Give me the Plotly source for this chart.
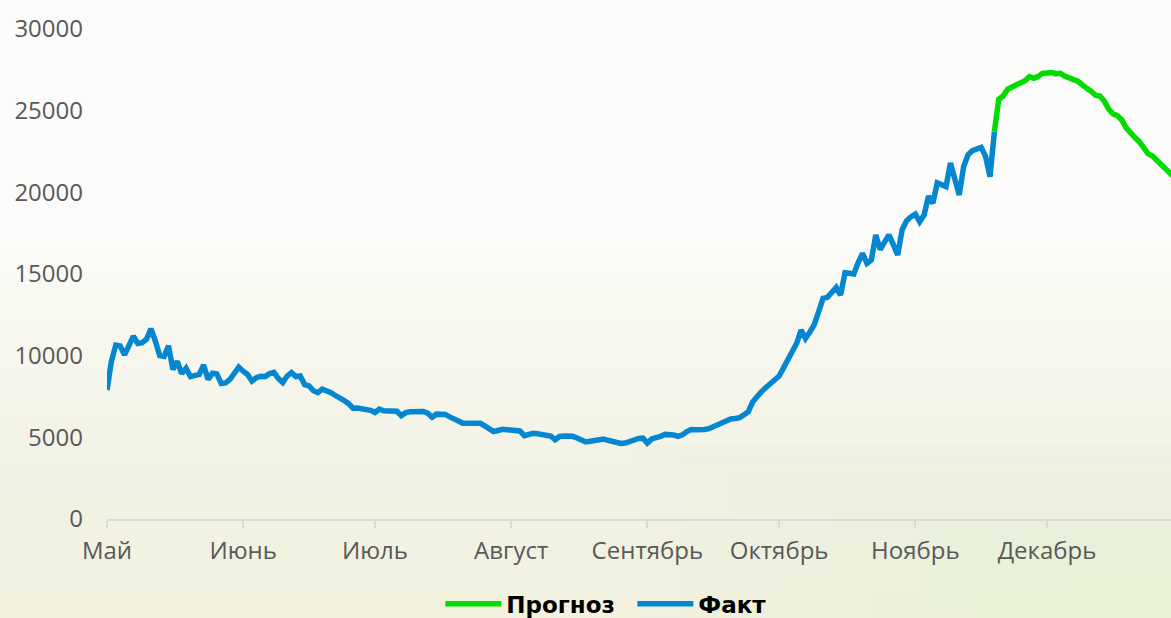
import plotly.graph_objects as go
import pandas as pd

# daily new cases
fact_may = [7900, 9650, 10650, 10600, 10050, 10550, 11200, 10750, 10800, 11000,
            11650, 10900, 10000, 9950, 10600, 9150, 9650, 8900, 9230, 8720,
            8800, 8850, 9430, 8550, 8920, 8880, 8300, 8330, 8550, 8950, 9300]
fact_jun = [9050, 8850, 8450, 8650, 8740, 8720, 8900, 8970, 8600, 8350,
            8750, 8960, 8720, 8760, 8220, 8150, 7850, 7740, 7950, 7860,
            7730, 7560, 7450, 7250, 7060, 6780, 6800, 6770, 6680, 6650]
fact_jul = [6520, 6730, 6630, 6640, 6670, 6600, 6330, 6510, 6560, 6580,
            6600, 6580, 6480, 6230, 6420, 6410, 6400, 6250, 6150, 6000,
            5860, 5840, 5820, 5840, 5860, 5700, 5550, 5350, 5420, 5490, 5470]
fact_aug = [5450, 5420, 5390, 5100, 5180, 5250, 5220, 5200, 5130, 5080,
            4850, 5050, 5080, 5080, 5060, 4960, 4850, 4720, 4760, 4790,
            4850, 4900, 4820, 4730, 4680, 4630, 4650, 4750, 4880, 4930, 4950]
fact_sep = [4650, 4900, 4950, 5050, 5180, 5200, 5140, 5060, 5150, 5350,
            5480, 5470, 5460, 5480, 5530, 5650, 5750, 5870, 6000, 6120,
            6150, 6200, 6380, 6570, 7180, 7550, 7800, 8050, 8250, 8500]
fact_oct = [8750, 9250, 9700, 10150, 10760, 11570, 11060, 11450, 11900, 12690,
            13510, 13570, 13850, 14180, 13710, 15080, 15050, 15000, 15700, 16260,
            15650, 15860, 17390, 16500, 16950, 17390, 16800, 16160, 17700, 18250, 18500]
fact_nov = [18670, 18200, 18610, 19770, 19330, 20580, 20500, 20350, 21800, 20800,
            19840, 21570, 22300, 22550, 22630, 22750, 22200, 20960, 23700]

forecast = [23700, 25700, 25900, 26300, 26450, 26570, 26700, 26830, 27080, 26980,
            27100, 27290, 27300, 27330, 27260, 27290, 27120, 27050, 26900, 26800,
            26550, 26370, 26200, 25950, 25900, 25600, 25100, 24800, 24700, 24430,
            23950, 23600, 23350, 23100, 22750, 22350, 22220, 21950, 21670, 21400,
            21160, 20900]

fact = fact_may + fact_jun + fact_jul + fact_aug + fact_sep + fact_oct + fact_nov
fact_dates = pd.date_range("2020-05-01", periods=len(fact), freq="D")
forecast_dates = pd.date_range(fact_dates[-1], periods=len(forecast), freq="D")

month_ticks = pd.date_range("2020-05-01", "2020-12-01", freq="MS")
month_names = ["Май", "Июнь", "Июль", "Август", "Сентябрь", "Октябрь", "Ноябрь", "Декабрь"]

green = "#00dc00"
blue = "#0487d0"

fig = go.Figure()
fig.add_trace(go.Scatter(x=forecast_dates, y=forecast, mode="lines", name="Прогноз",
                         line=dict(color=green, width=5.5)))
fig.add_trace(go.Scatter(x=fact_dates, y=fact, mode="lines", name="Факт",
                         line=dict(color=blue, width=5.5)))

# soft cream / pale green wash growing toward the bottom of the background
for i in range(16):
    top = 0.55 - i * 0.05
    fig.add_shape(type="rect", xref="paper", yref="paper", x0=-0.11, x1=1.01,
                  y0=-0.25, y1=top, line_width=0, layer="below",
                  fillcolor="rgba(248,248,214,0.075)")
for i in range(10):
    fig.add_shape(type="rect", xref="paper", yref="paper", x0=0.5 + i * 0.045, x1=1.01,
                  y0=-0.25, y1=0.15 - i * 0.03, line_width=0, layer="below",
                  fillcolor="rgba(228,247,206,0.07)")

fig.update_layout(
    width=1171, height=618,
    margin=dict(l=107, r=0, t=29, b=99),
    paper_bgcolor="#fbfbfa",
    plot_bgcolor="rgba(0,0,0,0)",
    font=dict(family="Open Sans", size=24, color="#595959"),
    showlegend=True,
    legend=dict(orientation="h", xref="container", yref="container",
                x=0.540, xanchor="center", y=0.023, yanchor="middle",
                font=dict(family="DejaVu Sans", size=23, color="#000000", weight="bold"),
                itemwidth=56, entrywidth=121, traceorder="normal",
                bgcolor="rgba(0,0,0,0)"),
    xaxis=dict(
        range=["2020-05-01", "2020-12-29 05:00"],
        tickvals=month_ticks, ticktext=month_names,
        showgrid=False, zeroline=False,
        showline=True, linecolor="#d9d9d9", linewidth=2,
        ticks="outside", ticklen=7, tickcolor="#d9d9d9", tickwidth=2,
        ticklabelstandoff=2,
        tickfont=dict(size=24, color="#595959"),
    ),
    yaxis=dict(
        range=[0, 30000], tickvals=[0, 5000, 10000, 15000, 20000, 25000, 30000],
        tickformat="d",
        showgrid=False, zeroline=False, showline=False,
        ticklabelstandoff=23,
        tickfont=dict(size=24, color="#595959"),
    ),
)

fig.write_html("out.html", config={"displayModeBar": False},
               post_script="document.body.style.margin='0';")
